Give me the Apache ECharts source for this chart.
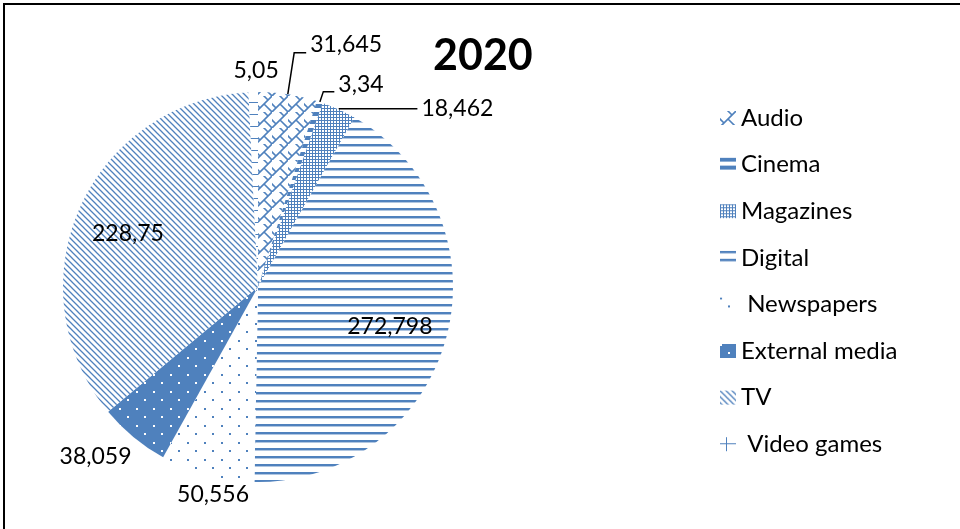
<!DOCTYPE html>
<html><head><meta charset="utf-8">
<script src="https://cdn.jsdelivr.net/npm/echarts@6/dist/echarts.min.js"></script>
<style>html,body{margin:0;padding:0;background:#fff}#c{width:960px;height:529px}</style>
</head><body><div id="c"></div>
<script>
const categories = ['Audio', 'Cinema', 'Magazines', 'Digital', ' Newspapers', 'External media', 'TV', ' Video games'];
const values = [31.645, 3.34, 18.462, 272.798, 50.556, 38.059, 228.75, 5.05];
const titleText = '2020';

const B = '#4F81BD';
function pat(w, h, bg, draw) {
  const c = document.createElement('canvas'); c.width = w; c.height = h;
  const g = c.getContext('2d'); g.fillStyle = bg; g.fillRect(0, 0, w, h);
  g.fillStyle = B; g.strokeStyle = B; draw(g, w, h);
  return { image: c, repeat: 'repeat' };
}
const patterns = [
  // Audio: trellis / diagonal brick
  pat(16, 16, '#fff', g => {
    g.lineWidth = 1.6; g.beginPath();
    g.moveTo(-2, 18); g.lineTo(18, -2);
    g.moveTo(8, 8); g.lineTo(16, 16);
    g.moveTo(4, -4); g.lineTo(12, 4);
    g.moveTo(-4, 4); g.lineTo(4, 12);
    g.moveTo(12, 20); g.lineTo(20, 12);
    g.stroke();
  }),
  // Cinema: wide horizontal
  pat(8, 8, '#fff', g => { g.fillRect(0, 0, 8, 4); }),
  // Magazines: small checker
  pat(3, 3, B, g => { g.fillStyle = '#fff'; g.fillRect(1, 1, 2, 2); }),
  // Digital: narrow horizontal lines
  pat(8, 8, '#fff', g => { g.fillRect(0, 0, 8, 2); g.globalAlpha = 0.45; g.fillRect(0, 2, 8, 1); }),
  // Newspapers: sparse dots
  pat(17, 17, '#fff', g => { g.fillRect(0, 0, 2, 2); g.fillRect(8, 8, 2, 2); }),
  // External media: blue with white dots
  pat(17, 17, B, g => { g.fillStyle = '#fff'; g.fillRect(0, 0, 2, 2); g.fillRect(8, 8, 2, 2); }),
  // TV: downward diagonal
  pat(6, 6, '#fff', g => {
    g.lineWidth = 1.3; g.beginPath();
    for (const k of [-6, 0, 6]) { g.moveTo(-1, k - 1); g.lineTo(7, k + 7); }
    g.stroke();
  }),
  // Video games: large grid
  pat(12, 12, '#fff', g => { g.fillRect(0, 6, 12, 1); g.fillRect(6, 0, 1, 12); })
];

// label placement styles per slice (index aligned with categories)
const labelStyles = [
  { position: 'outside', line: { show: true, length: 42, length2: 12 } },
  { position: 'outside', line: { show: true, length: 11, length2: 11 } },
  { position: 'outside', line: { show: true, length: 1, length2: 78 } },
  { position: 'inside', line: { show: false } },
  { position: 'outside', line: { show: false, length: 20, length2: 0 } },
  { position: 'outside', line: { show: false, length: 25, length2: 0 } },
  { position: 'inside', line: { show: false } },
  { position: 'outside', line: { show: false, length: 21, length2: 0 } }
];
const labelShift = [[0, -8], [0, -7], null, [35, 13], [51, 0], [18, 0], [-38, -13], [30, 0]];

const data = categories.map((n, i) => ({
  name: n, value: values[i],
  itemStyle: { color: patterns[i] },
  label: { position: labelStyles[i].position },
  labelLine: labelStyles[i].line
}));

const chart = echarts.init(document.getElementById('c'), null, { renderer: 'canvas' });
chart.setOption({
  animation: false,
  backgroundColor: '#fff',
  title: { text: titleText, left: 433, top: 35, padding: 0, textStyle: { fontFamily: 'Lato', fontWeight: 'bold', fontSize: 43, color: '#000' } },
  legend: {
    orient: 'vertical', left: 720, top: 106, padding: 0, itemWidth: 16, itemHeight: 14, itemGap: 22.6,
    icon: 'rect', data: categories,
    textStyle: { fontFamily: 'Lato', fontSize: 24, color: '#000' }
  },
  graphic: [
    { type: 'rect', shape: { x: 3, y: 3, width: 960, height: 2 }, style: { fill: '#000' } },
    { type: 'rect', shape: { x: 3, y: 3, width: 2, height: 530 }, style: { fill: '#000' } }
  ],
  series: [{
    type: 'pie', center: [258, 287], radius: 195, startAngle: 90, clockwise: true,
    avoidLabelOverlap: false, silent: true,
    itemStyle: { borderWidth: 0 },
    label: {
      show: true, fontFamily: 'Lato', fontSize: 23, color: '#000', distanceToLabelLine: 4,
      formatter: p => String(p.value).replace('.', ',')
    },
    labelLine: { lineStyle: { color: '#000', width: 1.5 }, smooth: false },
    labelLayout: p => {
      const s = labelShift[p.dataIndex];
      return s ? { dx: s[0], dy: s[1] } : {};
    },
    data: data
  }]
});
</script></body></html>
